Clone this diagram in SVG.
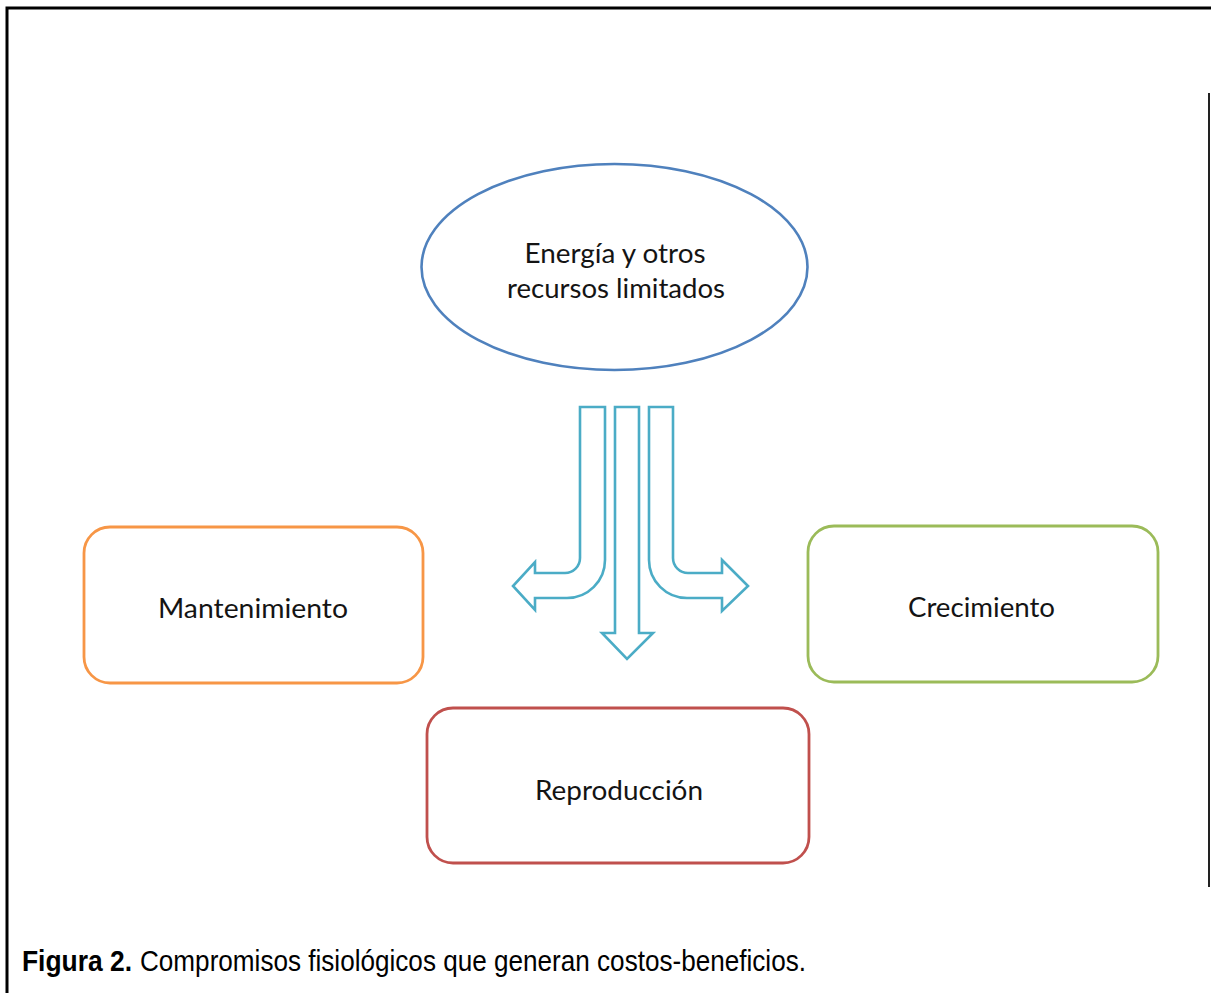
<svg xmlns="http://www.w3.org/2000/svg" width="1211" height="993" viewBox="0 0 1211 993">
<style>
.lbl{font-family:Lato,"Open Sans",sans-serif;font-size:26px;fill:#141414;text-anchor:middle}
.box{fill:#fff;stroke-width:2.8}
.arr{fill:#fff;stroke:#4bacc6;stroke-width:2.6;stroke-linejoin:miter}
.cap{font-family:"Liberation Sans",Arial,sans-serif;font-size:30px;fill:#000}
</style>
<rect width="1211" height="993" fill="#fff"/>
<g id="frame" fill="none">
<path d="M7,993 V8 H1211" stroke="#000" stroke-width="3"/>
<line x1="1209" y1="93" x2="1209" y2="887" stroke="#222" stroke-width="2"/>
</g>
<g id="energia">
<ellipse cx="614.5" cy="267" rx="193" ry="103" fill="#fff" stroke="#4f81bd" stroke-width="2.6"/>
<text class="lbl" x="615" y="263" textLength="181" lengthAdjust="spacingAndGlyphs">Energía y otros</text>
<text class="lbl" x="616" y="298" textLength="218" lengthAdjust="spacingAndGlyphs">recursos limitados</text>
</g>
<g id="connectors">
<path class="arr" d="M580,407 H605 V560 A38,38 0 0 1 567,598 H535 V610 L513,586 L535,562 V573 H565 A15,15 0 0 0 580,558 Z"/>
<path class="arr" d="M649,407 H673 V558 A15,15 0 0 0 688,573 H722 V560 L748,586 L722,611 V598 H687 A38,38 0 0 1 649,560 Z"/>
<path class="arr" d="M615,407 H639 V633 H653 L627,659 L602,633 H615 Z"/>
</g>
<g id="mantenimiento">
<rect class="box" x="84" y="527" width="339" height="156" rx="26" stroke="#f79646"/>
<text class="lbl" x="253" y="618" textLength="190" lengthAdjust="spacingAndGlyphs">Mantenimiento</text>
</g>
<g id="crecimiento">
<rect class="box" x="808" y="526" width="350" height="156" rx="26" stroke="#9bbb59"/>
<text class="lbl" x="981.5" y="617" textLength="147" lengthAdjust="spacingAndGlyphs">Crecimiento</text>
</g>
<g id="reproduccion">
<rect class="box" x="427" y="708" width="382" height="155" rx="26" stroke="#c0504d"/>
<text class="lbl" x="619" y="800" textLength="168" lengthAdjust="spacingAndGlyphs">Reproducción</text>
</g>
<g id="caption">
<text class="cap" x="22" y="971" font-weight="bold" textLength="110" lengthAdjust="spacingAndGlyphs">Figura 2.</text>
<text class="cap" x="140" y="971" textLength="666" lengthAdjust="spacingAndGlyphs">Compromisos fisiológicos que generan costos-beneficios.</text>
</g>
</svg>
